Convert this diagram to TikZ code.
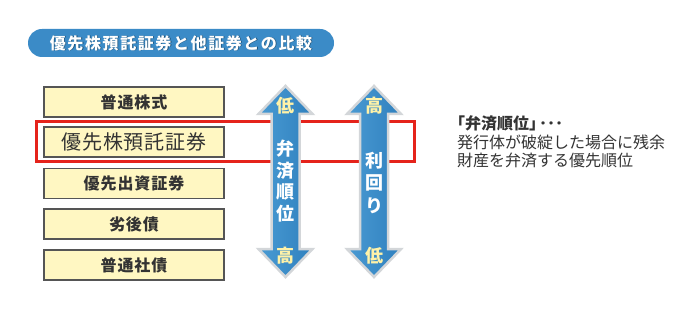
\documentclass[tikz,border=0pt]{standalone}
\usepackage{fontspec}
\setmainfont{Noto Sans CJK JP}
\definecolor{pillblue}{HTML}{3B8BC7}
\definecolor{boxfill}{HTML}{FFF7C2}
\definecolor{boxline}{HTML}{555555}
\definecolor{redline}{HTML}{E5231B}
\definecolor{arrblueL}{HTML}{4A9BD3}
\definecolor{arrblueR}{HTML}{2F80BE}
\definecolor{arredge}{HTML}{D3D6D9}
\definecolor{hilite}{HTML}{FFF2A8}
\definecolor{txt}{HTML}{333333}
\definecolor{shadowc}{HTML}{1D4F75}
\tikzset{
  itembox/.style={draw=boxline, fill=boxfill, line width=1.2pt, minimum width=180pt,
    minimum height=30pt, inner sep=0pt, text=txt,
    font=\fontsize{16}{16}\selectfont\bfseries\addfontfeature{LetterSpace=6}},
  arrowbody/.style={draw=arredge, line width=2.5pt, line join=miter,
    left color=arrblueL, right color=arrblueR},
  endlabel/.style={text=hilite, font=\fontsize{18}{18}\selectfont\bfseries, inner sep=0pt},
  midlabel/.style={text=white, font=\fontsize{18}{21.5}\selectfont\bfseries, inner sep=0pt, align=center},
  dblarr/.pic={
    \path[arrowbody] (0,86) -- (27,114) -- (14,114) -- (14,249) -- (27,249) -- (0,277)
      -- (-27,249) -- (-14,249) -- (-14,114) -- (-27,114) -- cycle;
  }
}
\begin{document}
\begin{tikzpicture}[x=1pt,y=-1pt]
\useasboundingbox (0,0) rectangle (700,312);
% title pill
\node[fill=pillblue, rounded corners=14pt, minimum width=306pt, minimum height=28pt, inner sep=0pt] (title) at (181,43) {};
\node[text=shadowc, font=\fontsize{16}{16}\selectfont\bfseries\addfontfeature{LetterSpace=10}, inner sep=0pt] (titleshadow) at (181.8,43.8) {優先株預託証券と他証券との比較};
\node[text=white, font=\fontsize{16}{16}\selectfont\bfseries\addfontfeature{LetterSpace=10}, inner sep=0pt] (titletext) at (181,43) {優先株預託証券と他証券との比較};
% boxes
\node[itembox] (b1) at (134,102) {普通株式};
\node[itembox, font=\fontsize{20}{20}\selectfont\addfontfeature{LetterSpace=4}] (b2) at (134,142) {優先株預託証券};
\node[itembox] (b3) at (134,183.5) {優先出資証券};
\node[itembox] (b4) at (134,224) {劣後債};
\node[itembox] (b5) at (134,265) {普通社債};
% red frame
\node[draw=redline, line width=3pt, minimum width=378pt, minimum height=40pt, inner sep=0pt] (frame) at (225,142) {};
% arrows
\pic (a1) at (285.5,0) {dblarr};
\pic (a2) at (374,0) {dblarr};
% arrow labels
\node[endlabel] (l1top) at (285.5,106) {低};
\node[midlabel] (l1mid) at (285.5,181) {弁\\済\\順\\位};
\node[endlabel] (l1bot) at (285.5,256) {高};
\node[endlabel] (l2top) at (374,106) {高};
\node[midlabel, font=\fontsize{18}{22.5}\selectfont\bfseries] (l2mid) at (374,182.5) {利\\回\\り};
\node[endlabel] (l2bot) at (374,256) {低};
% note
\node[anchor=north west, align=left, text=txt, inner sep=0pt,
  font=\fontsize{16}{18.5}\selectfont] (note) at (457,116)
  {{\bfseries\hspace{-8pt}「弁済順位」\hspace{-6pt}･･･}\\発行体が破綻した場合に残余\\財産を弁済する優先順位};
\end{tikzpicture}
\end{document}
